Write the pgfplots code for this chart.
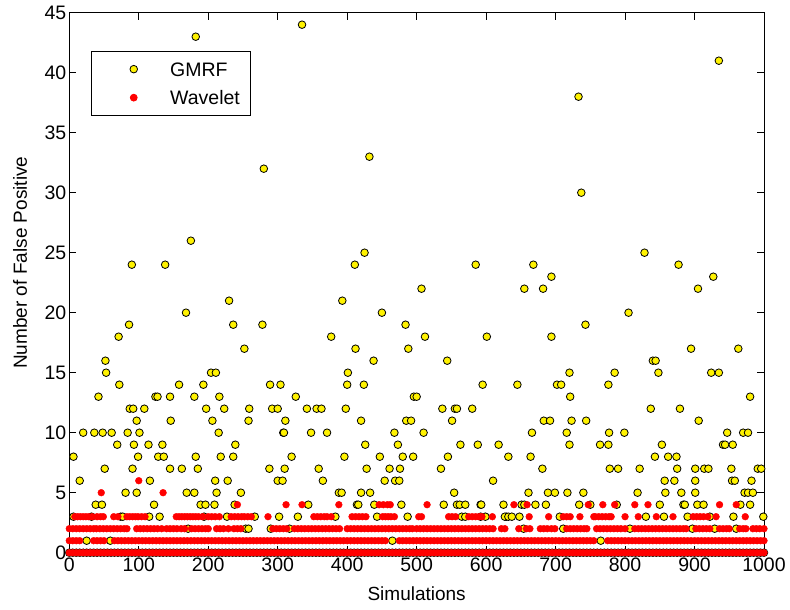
\documentclass[border=0pt]{standalone}
\usepackage{fontspec}
\setmainfont{Liberation Sans}
\usepackage{pgfplots}
\pgfplotsset{compat=1.18}

\begin{document}
\begin{tikzpicture}
% fixed page frame around the axis box
\path[use as bounding box] (-69.3pt,-57.3pt) rectangle (720.7pt,552.7pt);
\begin{axis}[
  scale only axis,
  width=694.7pt, height=540pt,
  xmin=0, xmax=1000, ymin=0, ymax=45,
  xtick={0,100,...,1000},
  ytick={0,5,...,45},
  scaled ticks=false,
  /pgf/number format/1000 sep={},
  /pgf/number format/assume math mode=true,
  tick align=inside,
  major tick length=7pt,
  axis line style={line width=0.9pt},
  tick style={line width=0.9pt, black},
  ticklabel style={font=\fontsize{19.5}{22}\selectfont},
  xticklabel style={yshift=-2pt},
  yticklabel style={xshift=0.5pt},
  label style={font=\fontsize{19}{22}\selectfont},
  xlabel={Simulations},
  ylabel={Number of False Positive},
  xlabel style={at={(axis description cs:0.5,-0.0765)}, anchor=center},
  ylabel style={at={(axis description cs:-0.071,0.537)}, anchor=center},
  clip=false,
  legend style={
    at={(0.0308,0.9296)}, anchor=north west,
    draw=black, line width=0.9pt, fill=white,
    inner xsep=11pt, inner ysep=11pt,
    row sep=14.5pt,
    font=\fontsize{19.5}{22}\selectfont,
    nodes={inner sep=0pt, text height=14pt, text depth=0pt, anchor=west},
    cells={anchor=west},
  },
  legend image code/.code={%
    \path[draw=none, fill=none] (0pt,-7pt) rectangle (68pt,7pt);
    \path[#1] plot coordinates {(31.6pt,0pt)};
  },
]

% GMRF
\addplot[black, only marks, mark=*, mark size=3.8pt,
  mark options={fill=yellow, draw=black, line width=0.8pt}] coordinates {
(182,43)(335,44)(280,32)(432,33)(175,26)(90,24)(138,24)(230,21)(393,21)(411,24)
(425,25)(507,22)(168,20)(450,20)(935,41)(733,38)(737,30)(585,24)(655,22)(668,24)
(682,22)(694,23)(828,25)(877,24)(905,22)(927,23)(805,20)
(86,19)(71,18)(52,16)(53,15)(72,14)(42,13)(87,12)(92,12)(108,12)(97,11)(20,10)
(36,10)(48,10)(61,10)(84,10)(101,10)(69,9)(93,9)(114,9)(6,8)(99,8)(51,7)(91,7)
(15,6)(116,6)(81,5)(97,5)(38,4)(47,4)(122,4)(124,13)(6,3)(74,3)(77,3)(115,3)(32,3)
(236,19)(252,17)(204,15)(211,15)(158,14)(193,14)(127,13)(145,13)(180,13)(216,13)
(197,12)(223,12)(146,11)(206,11)(215,10)(134,9)(239,9)(128,8)(136,8)(182,8)(218,8)
(236,8)(145,7)(162,7)(185,7)(210,6)(228,6)(169,5)(180,5)(212,5)(247,5)(189,4)
(196,4)(209,4)(238,4)(130,3)(194,3)(227,3)
(278,19)(377,18)(289,14)(304,14)(326,13)(259,12)(292,12)(300,12)(342,12)(356,12)
(363,12)(258,11)(311,11)(308,10)(309,10)(348,10)(371,10)(320,8)(288,7)(310,7)
(359,7)(300,6)(307,6)(365,6)(344,4)(267,3)(302,3)(329,3)
(484,19)(412,17)(488,17)(438,16)(401,15)(400,14)(424,14)(496,13)(500,13)(398,12)
(420,11)(485,11)(492,11)(468,10)(426,9)(473,9)(396,8)(447,8)(480,8)(495,8)(428,7)
(461,7)(476,7)(454,6)(469,6)(475,6)(388,5)(392,5)(420,5)(433,5)(414,4)(416,4)
(439,4)(478,4)(383,3)(443,3)(487,3)
(512,18)(601,18)(544,16)(595,14)(537,12)(555,12)(558,12)(580,12)(551,11)(510,10)
(563,9)(588,9)(618,9)(545,8)(535,7)(610,6)(554,5)(539,4)(558,4)(562,4)(570,4)
(592,4)(593,4)(625,4)(565,3)(570,3)(592,3)(599,3)(629,3)
(743,19)(694,18)(720,15)(645,14)(702,14)(708,14)(721,13)(683,11)(692,11)(723,11)
(744,11)(666,10)(716,10)(720,9)(632,8)(664,8)(681,7)(661,5)(689,5)(699,5)(717,5)
(740,5)(651,4)(655,4)(671,4)(686,4)(734,4)(750,4)(627,3)(632,3)(637,3)(648,3)(706,3)
(840,16)(844,16)(785,15)(848,15)(776,14)(837,12)(879,12)(777,10)(799,10)(764,9)
(776,9)(853,9)(843,8)(862,8)(874,8)(778,7)(790,7)(821,7)(875,7)(857,6)(871,6)
(818,5)(858,5)(881,5)(788,4)(850,4)(884,4)(830,3)(856,3)
(895,17)(963,17)(924,15)(935,15)(980,13)(906,11)(947,10)(970,10)(977,10)(941,9)
(944,9)(955,9)(901,7)(914,7)(920,7)(953,7)(991,7)(996,7)(901,6)(954,6)(958,6)
(982,6)(901,5)(972,5)(977,5)(984,5)(886,4)(904,4)(913,4)(966,4)(980,4)(890,3)
(922,3)(956,3)(999,3)
(25,1)(59,1)(171,2)(254,2)(258,2)(290,2)(317,2)(465,1)(654,2)(711,2)(765,1)
(807,2)(897,2)(929,2)(960,2)
(0,0)(5,0)(10,0)(15,0)(20,0)(25,0)(30,0)(35,0)(40,0)(45,0)(50,0)(55,0)(60,0)
(65,0)(70,0)(75,0)(80,0)(85,0)(90,0)(95,0)(100,0)(105,0)(110,0)(115,0)(120,0)
(125,0)(130,0)(135,0)(140,0)(145,0)(150,0)(155,0)(160,0)(165,0)(170,0)(175,0)
(180,0)(185,0)(190,0)(195,0)(200,0)(205,0)(210,0)(215,0)(220,0)(225,0)(230,0)
(235,0)(240,0)(245,0)(250,0)(255,0)(260,0)(265,0)(270,0)(275,0)(280,0)(285,0)
(290,0)(295,0)(300,0)(305,0)(310,0)(315,0)(320,0)(325,0)(330,0)(335,0)(340,0)
(345,0)(350,0)(355,0)(360,0)(365,0)(370,0)(375,0)(380,0)(385,0)(390,0)(395,0)
(400,0)(405,0)(410,0)(415,0)(420,0)(425,0)(430,0)(435,0)(440,0)(445,0)(450,0)
(455,0)(460,0)(465,0)(470,0)(475,0)(480,0)(485,0)(490,0)(495,0)(500,0)(505,0)
(510,0)(515,0)(520,0)(525,0)(530,0)(535,0)(540,0)(545,0)(550,0)(555,0)(560,0)
(565,0)(570,0)(575,0)(580,0)(585,0)(590,0)(595,0)(600,0)(605,0)(610,0)(615,0)
(620,0)(625,0)(630,0)(635,0)(640,0)(645,0)(650,0)(655,0)(660,0)(665,0)(670,0)
(675,0)(680,0)(685,0)(690,0)(695,0)(700,0)(705,0)(710,0)(715,0)(720,0)(725,0)
(730,0)(735,0)(740,0)(745,0)(750,0)(755,0)(760,0)(765,0)(770,0)(775,0)(780,0)
(785,0)(790,0)(795,0)(800,0)(805,0)(810,0)(815,0)(820,0)(825,0)(830,0)(835,0)
(840,0)(845,0)(850,0)(855,0)(860,0)(865,0)(870,0)(875,0)(880,0)(885,0)(890,0)
(895,0)(900,0)(905,0)(910,0)(915,0)(920,0)(925,0)(930,0)(935,0)(940,0)(945,0)
(950,0)(955,0)(960,0)(965,0)(970,0)(975,0)(980,0)(985,0)(990,0)(995,0)(1000,0)
};
\addlegendentry{GMRF}

% Wavelet
\addplot[red, only marks, mark=*, mark size=3.4pt,
  mark options={fill=red, draw=none}] coordinates {
(46,5)(135,5)(100,6)
(242,4)(312,4)(335,4)(388,4)(446,4)(452,4)(458,4)(462,4)(515,4)(640,4)(659,4)
(747,4)(768,4)(785,4)(814,4)(833,4)(936,4)(960,4)
(8,3)(12,3)(16,3)(20,3)(24,3)(28,3)(33,3)(40,3)(45,3)(49,3)(64,3)(70,3)(83,3)
(87,3)(91,3)(95,3)(99,3)(104,3)(109,3)(154,3)(158,3)(162,3)(166,3)(170,3)(174,3)
(178,3)(182,3)(186,3)(192,3)(200,3)(205,3)(210,3)(216,3)(233,3)(238,3)(243,3)
(248,3)(252,3)(257,3)(262,3)(286,3)(352,3)(357,3)(362,3)(367,3)(371,3)(377,3)
(407,3)(412,3)(417,3)(422,3)(427,3)(451,3)(455,3)(459,3)(463,3)(468,3)(503,3)
(507,3)(546,3)(551,3)(556,3)(575,3)(580,3)(585,3)(590,3)(594,3)(609,3)(662,3)
(690,3)(711,3)(716,3)(721,3)(735,3)(755,3)(757,3)(762,3)(767,3)(772,3)(777,3)
(780,3)(800,3)(819,3)(845,3)(869,3)(898,3)(903,3)(908,3)(913,3)(919,3)(931,3)(973,3)
(0,2)(5,2)(10,2)(15,2)(20,2)(25,2)(30,2)(35,2)(39,2)(44,2)(49,2)(54,2)(59,2)
(64,2)(69,2)(74,2)(79,2)(83,2)(97,2)(102,2)(107,2)(112,2)(117,2)(122,2)(127,2)
(133,2)(140,2)(145,2)(150,2)(155,2)(161,2)(166,2)(176,2)(181,2)(186,2)(191,2)
(196,2)(200,2)(212,2)(217,2)(222,2)(229,2)(237,2)(242,2)(247,2)(293,2)(298,2)
(303,2)(308,2)(313,2)(324,2)(329,2)(334,2)(339,2)(344,2)(349,2)(354,2)(359,2)
(364,2)(369,2)(374,2)(379,2)(384,2)(389,2)(400,2)(405,2)(410,2)(415,2)(420,2)
(425,2)(430,2)(435,2)(440,2)(445,2)(450,2)(455,2)(460,2)(465,2)(470,2)(475,2)
(480,2)(485,2)(490,2)(494,2)(500,2)(505,2)(510,2)(515,2)(520,2)(525,2)(530,2)
(535,2)(540,2)(545,2)(550,2)(555,2)(560,2)(565,2)(570,2)(575,2)(580,2)(585,2)
(590,2)(595,2)(600,2)(605,2)(610,2)(622,2)(627,2)(647,2)(658,2)(663,2)(678,2)
(683,2)(688,2)(694,2)(699,2)(716,2)(721,2)(726,2)(731,2)(736,2)(741,2)(745,2)
(759,2)(764,2)(769,2)(774,2)(779,2)(784,2)(789,2)(794,2)(800,2)(814,2)(819,2)
(824,2)(829,2)(834,2)(839,2)(844,2)(849,2)(854,2)(859,2)(864,2)(869,2)(874,2)
(879,2)(884,2)(888,2)(902,2)(907,2)(912,2)(917,2)(922,2)(936,2)(941,2)(946,2)
(950,2)(965,2)(970,2)(974,2)(984,2)(989,2)(994,2)(1000,2)
(0,1)(5,1)(10,1)(15,1)(35,1)(40,1)(45,1)(50,1)(65,1)(70,1)(75,1)(80,1)(85,1)
(90,1)(95,1)(100,1)(105,1)(110,1)(115,1)(120,1)(125,1)(130,1)(135,1)(140,1)
(145,1)(150,1)(155,1)(160,1)(165,1)(170,1)(175,1)(180,1)(185,1)(190,1)(195,1)
(200,1)(205,1)(210,1)(215,1)(220,1)(225,1)(230,1)(235,1)(240,1)(245,1)(250,1)
(255,1)(260,1)(265,1)(270,1)(275,1)(280,1)(285,1)(290,1)(295,1)(300,1)(305,1)
(310,1)(315,1)(320,1)(325,1)(330,1)(335,1)(340,1)(345,1)(350,1)(355,1)(360,1)
(365,1)(370,1)(375,1)(380,1)(385,1)(390,1)(395,1)(400,1)(405,1)(410,1)(415,1)
(420,1)(425,1)(430,1)(435,1)(440,1)(445,1)(450,1)(455,1)(475,1)(480,1)(485,1)
(490,1)(495,1)(500,1)(505,1)(510,1)(515,1)(520,1)(525,1)(530,1)(535,1)(540,1)
(545,1)(550,1)(555,1)(560,1)(565,1)(570,1)(575,1)(580,1)(585,1)(590,1)(595,1)
(600,1)(605,1)(610,1)(615,1)(620,1)(625,1)(630,1)(635,1)(640,1)(645,1)(650,1)
(655,1)(660,1)(665,1)(670,1)(675,1)(680,1)(685,1)(690,1)(695,1)(700,1)(705,1)
(710,1)(715,1)(720,1)(725,1)(730,1)(735,1)(740,1)(745,1)(750,1)(755,1)(775,1)
(780,1)(785,1)(790,1)(795,1)(800,1)(805,1)(810,1)(815,1)(820,1)(825,1)(830,1)
(835,1)(840,1)(845,1)(850,1)(855,1)(860,1)(865,1)(870,1)(875,1)(880,1)(885,1)
(890,1)(895,1)(900,1)(905,1)(910,1)(915,1)(920,1)(925,1)(930,1)(935,1)(940,1)
(945,1)(950,1)(955,1)(960,1)(965,1)(970,1)(975,1)(980,1)(985,1)(990,1)(995,1)(1000,1)
(0,0)(5,0)(10,0)(15,0)(20,0)(25,0)(30,0)(35,0)(40,0)(45,0)(50,0)(55,0)(60,0)
(65,0)(70,0)(75,0)(80,0)(85,0)(90,0)(95,0)(100,0)(105,0)(110,0)(115,0)(120,0)
(125,0)(130,0)(135,0)(140,0)(145,0)(150,0)(155,0)(160,0)(165,0)(170,0)(175,0)
(180,0)(185,0)(190,0)(195,0)(200,0)(205,0)(210,0)(215,0)(220,0)(225,0)(230,0)
(235,0)(240,0)(245,0)(250,0)(255,0)(260,0)(265,0)(270,0)(275,0)(280,0)(285,0)
(290,0)(295,0)(300,0)(305,0)(310,0)(315,0)(320,0)(325,0)(330,0)(335,0)(340,0)
(345,0)(350,0)(355,0)(360,0)(365,0)(370,0)(375,0)(380,0)(385,0)(390,0)(395,0)
(400,0)(405,0)(410,0)(415,0)(420,0)(425,0)(430,0)(435,0)(440,0)(445,0)(450,0)
(455,0)(460,0)(465,0)(470,0)(475,0)(480,0)(485,0)(490,0)(495,0)(500,0)(505,0)
(510,0)(515,0)(520,0)(525,0)(530,0)(535,0)(540,0)(545,0)(550,0)(555,0)(560,0)
(565,0)(570,0)(575,0)(580,0)(585,0)(590,0)(595,0)(600,0)(605,0)(610,0)(615,0)
(620,0)(625,0)(630,0)(635,0)(640,0)(645,0)(650,0)(655,0)(660,0)(665,0)(670,0)
(675,0)(680,0)(685,0)(690,0)(695,0)(700,0)(705,0)(710,0)(715,0)(720,0)(725,0)
(730,0)(735,0)(740,0)(745,0)(750,0)(755,0)(760,0)(765,0)(770,0)(775,0)(780,0)
(785,0)(790,0)(795,0)(800,0)(805,0)(810,0)(815,0)(820,0)(825,0)(830,0)(835,0)
(840,0)(845,0)(850,0)(855,0)(860,0)(865,0)(870,0)(875,0)(880,0)(885,0)(890,0)
(895,0)(900,0)(905,0)(910,0)(915,0)(920,0)(925,0)(930,0)(935,0)(940,0)(945,0)
(950,0)(955,0)(960,0)(965,0)(970,0)(975,0)(980,0)(985,0)(990,0)(995,0)(1000,0)
};
\addlegendentry{Wavelet}

\end{axis}
\end{tikzpicture}
\end{document}
